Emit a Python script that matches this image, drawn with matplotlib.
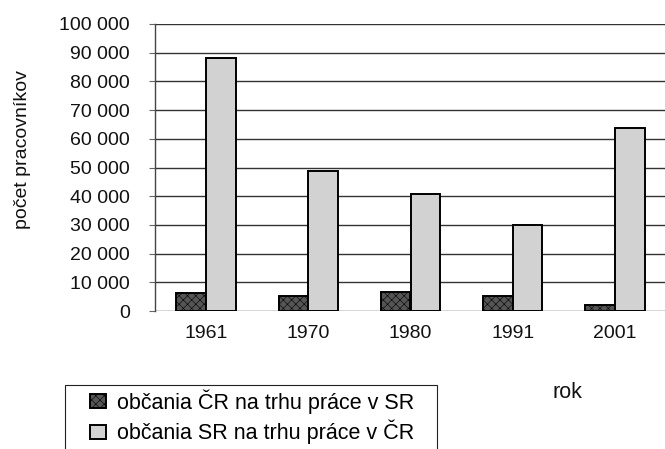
"""Pracovníci medzi ČR a SR podľa rokov -- zoskupený stĺpcový graf."""

import matplotlib

matplotlib.use("Agg")
import matplotlib.pyplot as plt
import numpy as np
from matplotlib.patches import Rectangle
from matplotlib.ticker import FuncFormatter

# -----------------------------------------------------------------------------
# Data
# -----------------------------------------------------------------------------
years = ["1961", "1970", "1980", "1991", "2001"]
cz_in_sk = [6300, 5200, 6500, 5100, 2000]
sk_in_cz = [88200, 48800, 40600, 29900, 63700]
series_labels = [
    "občania ČR na trhu práce v SR",
    "občania SR na trhu práce v ČR",
]

plt.rcParams["font.family"] = ["Liberation Sans", "DejaVu Sans"]
plt.rcParams["hatch.linewidth"] = 0.4

W, H = 665, 449
fig = plt.figure(figsize=(W / 100, H / 100), dpi=100)
ax = fig.add_axes([155 / W, 1 - 311 / H, 511 / W, (311 - 24) / H])

x = np.arange(len(years))
w = 0.29
b1 = ax.bar(x - w / 2, cz_in_sk, w, color="#555555", edgecolor="black",
            linewidth=1.4, hatch="xxxx", zorder=3, label=series_labels[0])
b2 = ax.bar(x + w / 2, sk_in_cz, w, color="#d2d2d2", edgecolor="black",
            linewidth=1.4, zorder=3, label=series_labels[1])

ax.set_xlim(-0.5, len(years) - 0.5)
ax.set_ylim(0, 100000)
ax.set_yticks(np.arange(0, 100001, 10000))
ax.yaxis.set_major_formatter(
    FuncFormatter(lambda v, _: f"{int(v):,}".replace(",", " "))
)
ax.set_xticks(x)
ax.set_xticklabels(years)

ax.grid(axis="y", color="#333333", linewidth=1.0, zorder=0)
for side in ("top", "right", "bottom"):
    ax.spines[side].set_visible(False)
ax.spines["left"].set_color("#444444")
ax.spines["left"].set_linewidth(1.0)

ax.tick_params(axis="y", length=4, width=0.8, color="#666666", pad=14,
               labelsize=14, labelcolor="#111111")
ax.tick_params(axis="x", length=0, pad=10, labelsize=14, labelcolor="#111111")

fig.text(23 / W, 1 - 150 / H, "počet pracovníkov", rotation=90,
         ha="center", va="center", fontsize=14, color="#111111")
fig.text(567 / W, 1 - 392 / H, "rok", ha="center", va="center",
         fontsize=15.5, color="#111111")

# legend: entries without frame, the box drawn separately (cut off at the bottom)
leg = fig.legend(
    [b1, b2], series_labels,
    loc="upper left", bbox_to_anchor=(90 / W, 1 - 389 / H),
    frameon=False, fontsize=15.5,
    handlelength=0.75, handleheight=0.6, handletextpad=0.5,
    labelspacing=0.3, borderpad=0, borderaxespad=0,
)
fig.add_artist(Rectangle((65 / W, -0.05), (437 - 65) / W, (449 - 385) / H + 0.05,
                         transform=fig.transFigure, fill=False,
                         edgecolor="#222222", linewidth=0.8))

fig.savefig("out.png", dpi=100)
